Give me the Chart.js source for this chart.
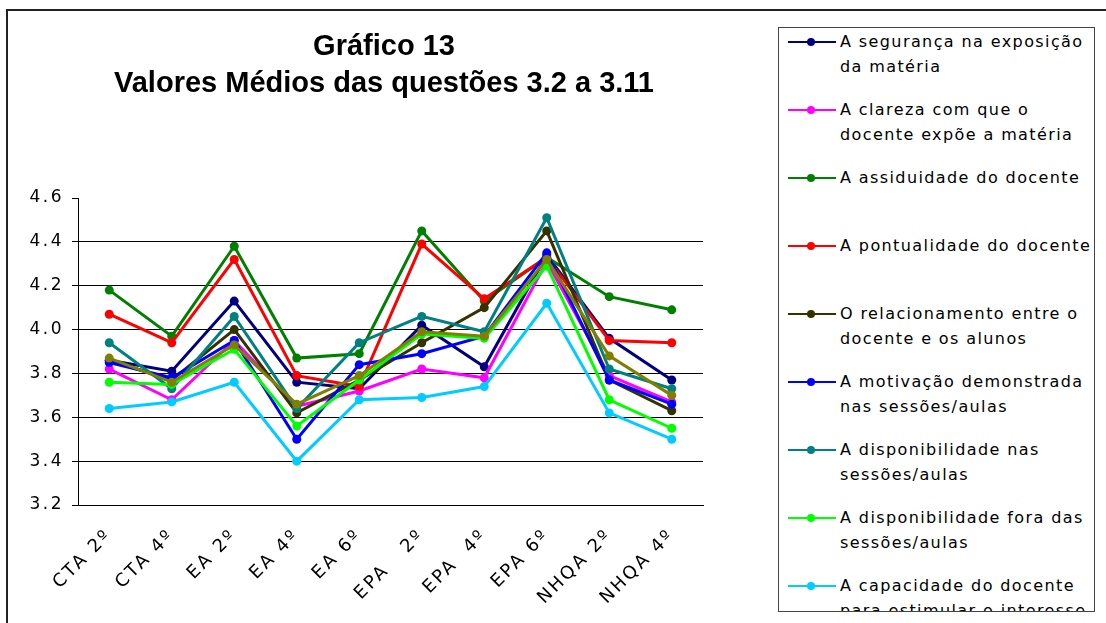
<!DOCTYPE html>
<html>
<head>
<meta charset="utf-8">
<script src="https://cdn.jsdelivr.net/npm/chart.js@4.4.1/dist/chart.umd.min.js"></script>
<style>
  html, body { margin: 0; padding: 0; background: #fff; }
  #wrap { position: relative; width: 1106px; height: 623px; overflow: hidden; background: #fff; }
  #frame { position: absolute; left: 6px; top: 9px; width: 1200px; height: 700px; border-left: 2px solid #222; border-top: 2px solid #222; }
  #title { position: absolute; left: 8px; width: 752px; top: 27px; text-align: center; font-family: "Liberation Sans", Arial, sans-serif; font-weight: bold; font-size: 29px; line-height: 37px; color: #000; }
  #c { position: absolute; left: 0; top: 0; }
  #legend { position: absolute; left: 778px; top: 27px; width: 315px; height: 583px; border: 1px solid #444; overflow: hidden; background: #fff; font-family: "DejaVu Sans", sans-serif; font-size: 16px; letter-spacing: 1.4px; color: #000; }
  .item { position: relative; height: 68px; }
  .mk { position: absolute; left: 9px; top: 13px; width: 48px; height: 2px; }
  .dot { position: absolute; left: 19px; top: -3px; width: 8px; height: 8px; border-radius: 50%; }
  .txt { position: absolute; left: 61px; top: 1px; line-height: 25px; white-space: nowrap; }
</style>
</head>
<body>
<div id="wrap">
  <div id="frame"></div>
  <canvas id="c" width="1106" height="623"></canvas>
  <div id="title">Gráfico 13<br>Valores Médios das questões 3.2 a 3.11</div>
  <div id="legend"></div>
</div>
<script>
const categories = ['CTA 2º', 'CTA 4º', 'EA 2º', 'EA 4º', 'EA 6º', 'EPA   2º', 'EPA  4º', 'EPA 6º', 'NHQA 2º', 'NHQA 4º'];
const yTicks = [3.2, 3.4, 3.6, 3.8, 4.0, 4.2, 4.4, 4.6];

const seriesNames = [
  ['A segurança na exposição', 'da matéria'],
  ['A clareza com que o', 'docente expõe a matéria'],
  ['A assiduidade do docente'],
  ['A pontualidade do docente'],
  ['O relacionamento entre o', 'docente e os alunos'],
  ['A motivação demonstrada', 'nas sessões/aulas'],
  ['A disponibilidade nas', 'sessões/aulas'],
  ['A disponibilidade fora das', 'sessões/aulas'],
  ['A capacidade do docente', 'para estimular o interesse'],
  ['Questão 3.11']
];
const seriesColors = ['#000080', '#FF00FF', '#008000', '#FF0000', '#333300', '#0000FF', '#008080', '#00FF00', '#00CCFF', '#808000'];

const seguranca       = [3.86, 3.81, 4.13, 3.76, 3.73, 4.02, 3.83, 4.34, 3.96, 3.77];
const clareza         = [3.82, 3.68, 3.95, 3.65, 3.72, 3.82, 3.78, 4.31, 3.79, 3.67];
const assiduidade     = [4.18, 3.97, 4.38, 3.87, 3.89, 4.45, 4.13, 4.33, 4.15, 4.09];
const pontualidade    = [4.07, 3.94, 4.32, 3.79, 3.74, 4.39, 4.14, 4.33, 3.95, 3.94];
const relacionamento  = [3.86, 3.77, 4.00, 3.62, 3.77, 3.94, 4.10, 4.45, 3.77, 3.63];
const motivacao       = [3.85, 3.78, 3.95, 3.50, 3.84, 3.89, 3.97, 4.35, 3.77, 3.66];
const dispNas         = [3.94, 3.73, 4.06, 3.64, 3.94, 4.06, 3.99, 4.51, 3.82, 3.73];
const dispFora        = [3.76, 3.75, 3.91, 3.56, 3.77, 3.98, 3.96, 4.29, 3.68, 3.55];
const capacidade      = [3.64, 3.67, 3.76, 3.40, 3.68, 3.69, 3.74, 4.12, 3.62, 3.50];
const questao311      = [3.87, 3.76, 3.93, 3.66, 3.79, 3.99, 3.97, 4.32, 3.88, 3.70];

const seriesValues = [seguranca, clareza, assiduidade, pontualidade, relacionamento, motivacao, dispNas, dispFora, capacidade, questao311];

const datasets = seriesValues.map((vals, i) => ({
  label: seriesNames[i].join(' '),
  data: vals,
  borderColor: seriesColors[i],
  backgroundColor: seriesColors[i],
  pointBackgroundColor: seriesColors[i],
  pointBorderColor: seriesColors[i],
  borderWidth: 3,
  pointRadius: 4.5,
  pointBorderWidth: 0,
  tension: 0,
  order: seriesValues.length - i
}));

const spacing = {
  id: 'spacing',
  beforeDraw(chart) { chart.ctx.letterSpacing = '2.5px'; },
  beforeLayout(chart) { chart.ctx.letterSpacing = '2.5px'; }
};

const htmlLegend = {
  id: 'htmlLegend',
  afterUpdate(chart) {
    const box = document.getElementById('legend');
    box.innerHTML = '';
    chart.data.datasets.forEach((ds, i) => {
      const item = document.createElement('div');
      item.className = 'item';
      const mk = document.createElement('div');
      mk.className = 'mk';
      mk.style.background = ds.borderColor;
      const dot = document.createElement('div');
      dot.className = 'dot';
      dot.style.background = ds.borderColor;
      mk.appendChild(dot);
      const txt = document.createElement('div');
      txt.className = 'txt';
      txt.innerHTML = seriesNames[i].join('<br>');
      item.appendChild(mk);
      item.appendChild(txt);
      box.appendChild(item);
    });
  }
};

new Chart(document.getElementById('c'), {
  type: 'line',
  data: { labels: categories, datasets },
  plugins: [spacing, htmlLegend],
  options: {
    responsive: false,
    animation: false,
    devicePixelRatio: 1,
    layout: { padding: { top: 198, right: 403, bottom: 0, left: 0 } },
    plugins: { legend: { display: false }, title: { display: false }, tooltip: { enabled: false } },
    scales: {
      x: {
        offset: true,
        grid: { display: false, drawTicks: false },
        border: { display: true, color: '#000', width: 1 },
        ticks: {
          color: '#000',
          font: { family: 'DejaVu Sans', size: 18 },
          minRotation: 45, maxRotation: 45,
          padding: 20,
          autoSkip: false
        },
        afterFit(s) { s.height = 118; }
      },
      y: {
        min: 3.2, max: 4.6,
        afterBuildTicks(s) { s.ticks = yTicks.map(v => ({ value: v })); },
        grid: {
          color: ctx => (ctx.tick && Math.abs(ctx.tick.value - 4.6) < 1e-6) ? 'rgba(0,0,0,0)' : '#000',
          tickColor: '#000',
          tickLength: 6,
          lineWidth: 1
        },
        border: { display: true, color: '#000', width: 1 },
        ticks: {
          color: '#000',
          font: { family: 'DejaVu Sans', size: 17 },
          padding: 8,
          callback: v => Number(v).toFixed(1)
        },
        afterFit(s) { s.width = 78; }
      }
    }
  }
});
</script>
</body>
</html>
